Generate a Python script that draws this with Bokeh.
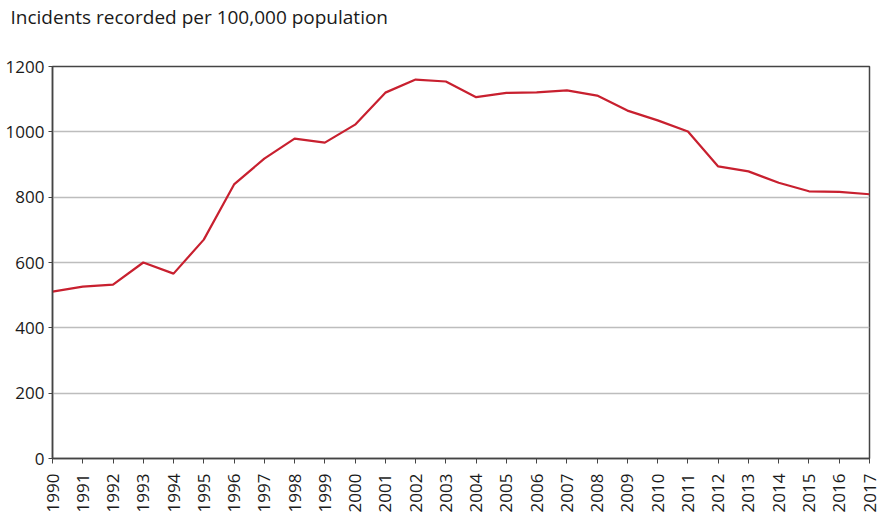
from bokeh.plotting import figure
from bokeh.models import FixedTicker, Range1d, ColumnDataSource, Title
from bokeh.embed import file_html
from bokeh.resources import INLINE
import math

years = list(range(1990, 2018))
incidents = [511, 526, 532, 600, 566, 670, 839, 918, 979, 967, 1022, 1120, 1160, 1154,
             1106, 1119, 1121, 1127, 1111, 1065, 1035, 1001, 894, 879, 844, 818, 816, 809]
y_ticks = [0, 200, 400, 600, 800, 1000, 1200]
title_text = "Incidents recorded per 100,000 population"

src = ColumnDataSource(dict(year=years, value=incidents))

p = figure(width=886, height=515, output_backend="svg", toolbar_location=None,
           x_range=Range1d(1990, 2017), y_range=Range1d(0, 1200),
           min_border_left=52, min_border_right=17, min_border_top=60, min_border_bottom=57)

# main title
p.title.text = title_text
p.title.text_font = "Open Sans"
p.title.text_font_size = "19px"
p.title.text_font_style = "normal"
p.title.text_color = "#1a1a1a"
p.title.align = "left"
p.title.vertical_align = "top"
p.title.offset = -42
p.title.standoff = 6

# blank spacer between the title and the plot frame
spacer = Title(text=" ", text_font="Open Sans", text_font_size="19px", standoff=4)
p.add_layout(spacer, "above")

p.line("year", "value", source=src, line_color="#c8202f", line_width=2.2)

p.xgrid.grid_line_color = None
p.ygrid.grid_line_color = "#bdbdbd"
p.ygrid.grid_line_width = 1.5
p.ygrid.ticker = FixedTicker(ticks=y_ticks)

p.outline_line_color = "#444444"
p.outline_line_width = 1.5
p.background_fill_color = "white"
p.border_fill_color = "white"

p.xaxis.ticker = FixedTicker(ticks=years)
p.xaxis.major_label_orientation = math.pi / 2
p.xaxis.major_label_standoff = 10
p.yaxis.ticker = FixedTicker(ticks=y_ticks)
p.yaxis.major_label_standoff = 4

for ax in (p.xaxis, p.yaxis):
    ax.axis_line_color = "#444444"
    ax.axis_line_width = 1.5
    ax.major_tick_line_color = "#444444"
    ax.major_tick_line_width = 1
    ax.major_tick_in = 0
    ax.major_tick_out = 5
    ax.minor_tick_line_color = None
    ax.major_label_text_font = "Open Sans"
    ax.major_label_text_font_size = "17px"
    ax.major_label_text_color = "#1a1a1a"
p.yaxis.major_tick_out = 4

open("out.html", "w").write(file_html(p, INLINE))
